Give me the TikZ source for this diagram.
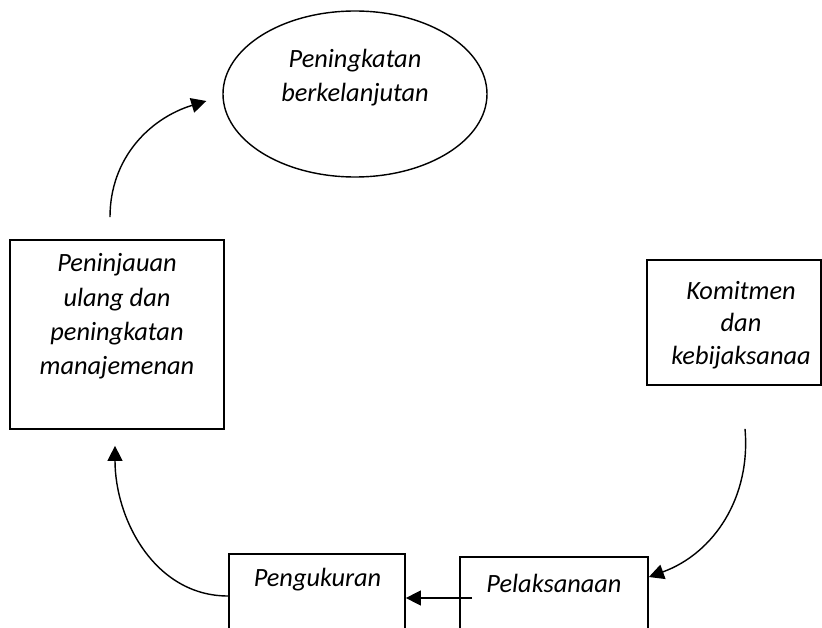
\documentclass[tikz,border=0pt]{standalone}
\usepackage{fontspec}
\setmainfont{Carlito}
\usepackage{tikz}
\usetikzlibrary{arrows.meta}
\usetikzlibrary{positioning}
\usetikzlibrary{shapes.geometric}

\begin{document}
\begin{tikzpicture}[
  box/.style={draw, line width=1pt, inner sep=0pt},
  txt/.style={align=center, font=\fontsize{15}{19.5}\selectfont\itshape},
  arr/.style={line width=0.8pt, arrows = {-Triangle[width=0.3cm, length=0.3cm]}}]
\useasboundingbox (0,0) rectangle (16.44,-12.56);
\clip (0,0) rectangle (16.44,-12.56);
% nodes
\node[box, ellipse, line width=0.8pt, minimum width=5.28cm, minimum height=3.32cm] (ell) at (7.10,-1.88) {};
\node[txt] (ellt) at (7.10,-1.55) {Peningkatan\\berkelanjutan};
\node[box, minimum width=4.28cm, minimum height=3.78cm] (rev) at (2.34,-6.69) {};
\node[txt] (revt) at (2.34,-6.33) {Peninjauan\\ulang dan\\peningkatan\\manajemenan};
\node[box, minimum width=3.48cm, minimum height=2.50cm] (kom) at (14.68,-6.45) {};
\node[txt, font=\fontsize{15}{18.5}\selectfont\itshape] (komt) at (14.82,-6.50) {Komitmen\\dan\\kebijaksanaa};
\node[box, anchor=north, minimum width=3.52cm, minimum height=2.94cm] (mea) at (6.34,-11.06) {};
\node[txt] (meat) at (6.35,-11.60) {Pengukuran};
\node[box, anchor=north, minimum width=3.76cm, minimum height=2.90cm] (pel) at (11.08,-11.12) {};
\node[txt] (pelt) at (11.08,-11.66) {Pelaksanaan};
% free ends
\coordinate (a1) at ([xshift=-0.14cm,yshift=0.44cm]rev.north);
\coordinate (a2) at ([xshift=-0.32cm,yshift=-0.14cm]ell.west);
\coordinate (b1) at ([xshift=0.22cm,yshift=-0.86cm]kom.south);
\coordinate (b2) at ([yshift=-0.42cm]pel.north east);
\coordinate (c1) at ([xshift=0.26cm,yshift=-0.84cm]pel.north west);
\coordinate (d1) at ([yshift=-0.86cm]mea.north west);
\coordinate (d2) at ([xshift=-0.04cm,yshift=-0.32cm]rev.south);
% connectors
\draw[arr] (a1) to[out=90, in=197] (a2);
\draw[arr] (b1) to[out=-85, in=20] (b2);
\draw[arr] (c1) -- (c1 -| mea.east);
\draw[arr] (d1) to[out=180, in=-90] (d2);
\end{tikzpicture}
\end{document}
